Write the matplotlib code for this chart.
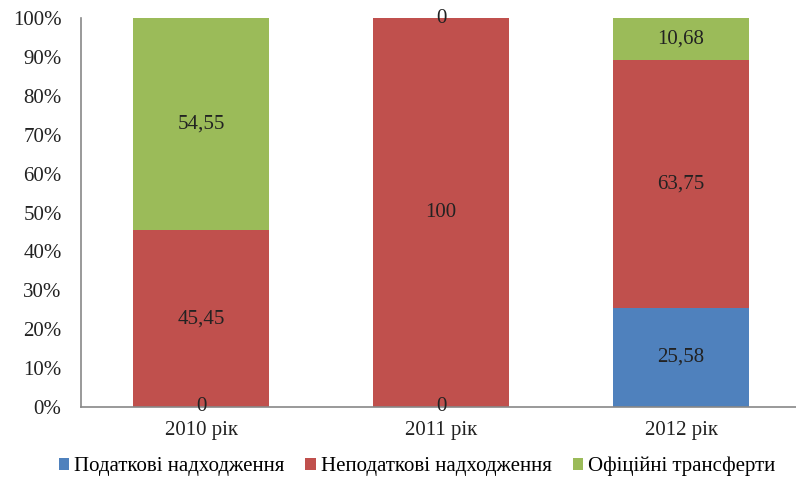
import numpy as np
import matplotlib.pyplot as plt
from matplotlib.patches import Patch

plt.rcParams['font.family'] = ['Liberation Serif', 'DejaVu Serif']

categories = ['2010 рік', '2011 рік', '2012 рік']
series_names = ['Податкові надходження', 'Неподаткові надходження', 'Офіційні трансферти']
tax = [0, 0, 25.58]
nontax = [45.45, 100, 63.75]
transfers = [54.55, 0, 10.68]
label_text = [['0', '0', '25,58'], ['45,45', '100', '63,75'], ['54,55', '0', '10,68']]
colors = ['#4F81BD', '#C0504D', '#9BBB59']

fig = plt.figure(figsize=(7.96, 4.86), dpi=100)
ax = fig.add_axes([0.1018, 0.1626, 0.9045, 0.800])

x = np.arange(len(categories))
bottom = np.zeros(len(categories))
for vals, col, labs in zip([tax, nontax, transfers], colors, label_text):
    vals = np.array(vals)
    ax.bar(x, vals, 0.57, bottom=bottom, color=col, zorder=2)
    for i in range(len(x)):
        ax.text(x[i], bottom[i] + vals[i] / 2, labs[i], ha='center', va='center',
                fontsize=15, color='#222222', zorder=3)
    bottom = bottom + vals

ax.set_xlim(-0.5, 2.5)
ax.set_ylim(0, 100)
ax.set_yticks(np.arange(0, 101, 10))
ax.set_yticklabels([f'{v}%' for v in range(0, 101, 10)], fontsize=15)
ax.set_xticks(x)
ax.set_xticklabels(categories, fontsize=15)
ax.tick_params(axis='y', length=0, pad=14, colors='#222222')
ax.tick_params(axis='x', length=0, pad=10, colors='#222222')
for s in ['top', 'right']:
    ax.spines[s].set_visible(False)
for s in ['left', 'bottom']:
    ax.spines[s].set_color('#888888')
    ax.spines[s].set_linewidth(1.2)

handles = [Patch(facecolor=c, label=n) for c, n in zip(colors, series_names)]
fig.legend(handles=handles, loc='center', bbox_to_anchor=(0.524, 0.04), ncol=3, frameon=False,
           fontsize=15, handlelength=0.5, handleheight=0.5, handletextpad=0.25, columnspacing=1.0)

fig.savefig('out.png', dpi=100)
